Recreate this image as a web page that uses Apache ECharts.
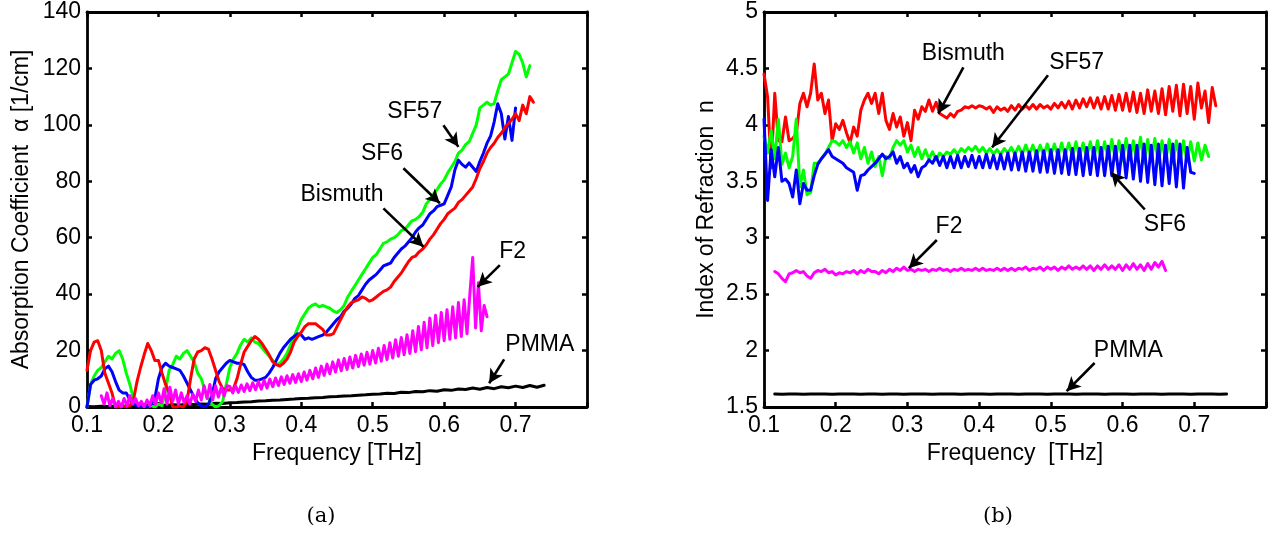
<!DOCTYPE html>
<html>
<head>
<meta charset="utf-8">
<title>THz absorption / refraction</title>
<script src="https://cdn.jsdelivr.net/npm/echarts@6/dist/echarts.min.js"></script>
<style>
    html, body { margin: 0; padding: 0; background: #fff; }
    #chart { width: 1279px; height: 537px; }
</style>
</head>
<body>
<div id="chart"></div>
<script>
// ---- data ----
// frequency axis ticks [THz]
var freqTicks = [0.1, 0.2, 0.3, 0.4, 0.5, 0.6, 0.7];

// (a) absorption coefficient [1/cm], sampled every 0.005 THz from the given start
var sf57AlphaStart = 0.100;
var sf57Alpha = [0, 8, 11, 13, 14, 16, 18, 17, 19, 20, 17, 12, 8, 3, 1, 0, 0.5, 0, 0.5, 0,
    1, 0.5, 6, 13, 15, 18, 17, 19, 20, 18, 16, 12, 10, 6, 3, 1, 0, 0.5, 2, 8,
    14, 17, 19, 22, 24, 23, 24.5, 23, 22.5, 21, 19.5, 18, 16.5, 15, 15.5, 17, 19, 22, 25, 28,
    31, 33, 35, 36, 36.5, 35.5, 36, 35.5, 35, 34, 33.5, 34.5, 36, 39, 41, 43, 45, 47, 49, 51,
    53, 54, 56, 58, 58.5, 59.5, 60, 61, 62.5, 63, 64.5, 66, 66.5, 67.5, 69, 72, 73.5, 75.5, 77, 79,
    80.5, 83, 85, 87, 90, 91, 93, 94, 97, 100, 106, 107, 108, 107, 107.5, 112, 116, 117, 118, 122,
    126, 125, 122, 117, 121];
var sf6AlphaStart = 0.100;
var sf6Alpha = [0, 8, 9.5, 10, 11, 13.5, 14.5, 12.5, 9, 6, 5, 5, 2.5, 1, 0.5, 0, 0.3, 0, 1, 3,
    10, 14, 15.5, 14.5, 14, 13.5, 13, 11, 8.5, 6, 3.5, 1.5, 0.5, 0, 1, 4, 10, 12.5, 14, 15.5,
    16.5, 16, 15.5, 15.5, 15, 12.5, 10.5, 9.5, 9.5, 10, 10.5, 12, 14, 16.5, 19, 21, 22.5, 24, 25, 26,
    25.5, 24, 24.5, 24, 24.5, 25, 25.5, 26.5, 28, 29.5, 31, 32, 34, 35, 36.5, 38.5, 39.5, 41.5, 43.5, 45,
    46, 47, 48.5, 50, 50.5, 51, 53, 54.5, 56, 57, 58.5, 60, 62, 63.5, 64.5, 66.5, 68.5, 69.5, 71, 71.5,
    72, 75, 78, 84, 87.5, 86, 85, 86.5, 85, 83.5, 87, 90, 93.5, 96, 101, 107.5, 104, 95, 103, 94.5,
    106];
var bismuthAlphaStart = 0.100;
var bismuthAlpha = [13, 20, 23, 23.5, 20, 12, 8.5, 5, 0, 0, 0.3, 0, 0.5, 2.5, 9, 14, 18.5, 22.5, 20, 16.5,
    16.5, 12, 8, 5, 0, 0, 0.3, 0, 2, 10, 17, 19.5, 20, 21, 20.5, 17, 13, 9, 6.5, 6,
    6, 6.5, 10, 15, 19.5, 21.5, 23.5, 25, 24, 22.5, 20.5, 18.5, 16, 15, 14.5, 15.5, 17, 19.5, 23, 25,
    26.5, 28.5, 29.5, 29.5, 29.5, 28.5, 27.5, 25.5, 25.5, 26, 28.5, 31, 33.5, 35.5, 37, 37.5, 38, 39, 38.5, 37.5,
    38, 39, 40, 41, 41.5, 42.5, 44.5, 46, 47.5, 49.5, 51.5, 53, 53.5, 55, 56, 57.5, 59.5, 61, 63, 65,
    66.5, 68.5, 69.5, 70.5, 72.5, 73.5, 75, 76.5, 78, 81, 84.5, 87, 90, 92, 93.5, 95.5, 97, 99, 100.5, 102,
    104, 101.5, 107, 104, 110, 108];
// F2 oscillates fast, sampled every 0.004 THz
var f2AlphaStart = 0.120;
var f2Alpha = [4, 1, 5, 0.5, 3, 0, 2, 0, 3, 0.5, 4, 1, 3, 0.5, 2, 0, 2.5, 0.5, 4, 1,
    5, 1.5, 6.5, 1, 7, 2, 6, 1, 5, 1.5, 4, 1, 4.5, 2, 6, 2.5, 7.5, 3, 8, 2.5,
    7.5, 3.5, 7, 4, 7.5, 7.3, 5, 7.5, 5.2, 7.8, 5.5, 8.2, 5.8, 8.6, 6.1, 9, 6.3, 9.5, 6.7, 9.9,
    7.2, 10.3, 7.6, 10.7, 8, 11.1, 8.4, 11.5, 8.7, 11.8, 9, 12.4, 9.5, 13, 10, 13.8, 10.5, 14.5, 11.2, 15.2,
    11.8, 16, 12.4, 16.7, 12.8, 17.2, 13.3, 17.7, 13.8, 18.3, 14.3, 18.8, 14.8, 19.4, 15.2, 20, 15.6, 20.8, 16.2, 21.8,
    16.8, 22.8, 17.4, 23.8, 18, 24.6, 18.5, 25.6, 19, 27, 19.6, 28.5, 20.3, 30, 21, 31.5, 21.8, 32.5, 22.8, 33.5,
    23.5, 34.5, 24, 35.5, 24.5, 37, 25, 38, 26, 40, 53, 28, 44, 27, 36, 32];
// PMMA, sampled every 0.01 THz
var pmmaAlphaStart = 0.100;
var pmmaAlpha = [0.2, 0.1, 0.3, 0.2, 0.4, 0.3, 0.5, 0.4, 0.6, 0.5, 0.7, 0.6, 0.8, 0.7, 1.0, 0.9, 1.1, 1.0, 1.3, 1.2,
    1.5, 1.6, 1.8, 1.9, 2.1, 2.2, 2.4, 2.5, 2.7, 2.8, 3.0, 3.1, 3.3, 3.4, 3.6, 3.7, 3.9, 4.0, 4.2, 4.3,
    4.5, 4.6, 4.9, 4.8, 5.2, 5.1, 5.5, 5.4, 5.8, 5.6, 6.1, 5.9, 6.4, 6.2, 6.7, 6.3, 6.9, 6.5, 7.2, 6.8,
    7.4, 6.9, 7.6, 7.0, 7.7];

// (b) index of refraction, sampled every 0.005 THz
var bismuthNStart = 0.100;
var bismuthN = [4.45, 4.25, 3.62, 4.28, 3.86, 3.85, 4.07, 3.86, 3.88, 3.92, 4.19, 4.28, 4.16, 4.28, 4.54, 4.22, 4.28, 4.10, 4.22, 3.86,
    4.01, 3.96, 4.04, 3.93, 3.84, 3.98, 3.90, 4.13, 4.22, 4.28, 4.19, 4.28, 4.10, 4.28, 4.04, 3.96, 4.10, 3.98, 4.07, 3.90,
    4.02, 3.86, 4.13, 4.05, 4.16, 4.12, 4.22, 4.12, 4.20, 4.10, 4.08, 4.06, 4.10, 4.07, 4.12, 4.13, 4.16, 4.15, 4.17, 4.15,
    4.17, 4.16, 4.14, 4.16, 4.11, 4.16, 4.13, 4.15, 4.12, 4.17, 4.13, 4.18, 4.14, 4.17, 4.14, 4.18, 4.14, 4.18, 4.15, 4.17,
    4.14, 4.19, 4.15, 4.20, 4.15, 4.21, 4.14, 4.22, 4.15, 4.23, 4.16, 4.24, 4.15, 4.24, 4.14, 4.25, 4.14, 4.26, 4.13, 4.27,
    4.13, 4.28, 4.12, 4.29, 4.11, 4.28, 4.10, 4.31, 4.12, 4.30, 4.10, 4.32, 4.09, 4.34, 4.12, 4.35, 4.08, 4.36, 4.10, 4.34,
    4.05, 4.37, 4.15, 4.30, 4.02, 4.33, 4.17];
var sf57NStart = 0.100;
var sf57N = [3.90, 3.75, 3.95, 3.70, 4.05, 3.65, 3.75, 3.62, 3.72, 4.05, 3.45, 3.60, 3.38, 3.40, 3.66, 3.66, 3.70, 3.74, 3.80, 3.86,
    3.85, 3.82, 3.86, 3.80, 3.85, 3.75, 3.84, 3.70, 3.80, 3.66, 3.76, 3.63, 3.72, 3.55, 3.72, 3.70, 3.80, 3.86, 3.82, 3.86,
    3.76, 3.82, 3.72, 3.80, 3.70, 3.78, 3.70, 3.76, 3.69, 3.75, 3.72, 3.76, 3.74, 3.78, 3.74, 3.79, 3.76, 3.80, 3.77, 3.81,
    3.76, 3.80, 3.75, 3.79, 3.74, 3.78, 3.74, 3.79, 3.75, 3.80, 3.74, 3.81, 3.74, 3.82, 3.74, 3.82, 3.73, 3.82, 3.73, 3.83,
    3.73, 3.83, 3.72, 3.84, 3.73, 3.84, 3.72, 3.85, 3.72, 3.84, 3.71, 3.85, 3.71, 3.86, 3.70, 3.85, 3.70, 3.87, 3.69, 3.86,
    3.68, 3.88, 3.69, 3.86, 3.68, 3.89, 3.66, 3.87, 3.68, 3.88, 3.66, 3.86, 3.68, 3.87, 3.66, 3.86, 3.68, 3.86, 3.67, 3.85,
    3.68, 3.84, 3.69, 3.82, 3.72];
var sf6NStart = 0.100;
var sf6N = [4.05, 3.33, 3.78, 3.54, 3.80, 3.50, 3.52, 3.48, 3.36, 3.60, 3.30, 3.48, 3.42, 3.42, 3.55, 3.65, 3.70, 3.74, 3.78, 3.72,
    3.70, 3.68, 3.66, 3.62, 3.60, 3.58, 3.42, 3.55, 3.56, 3.60, 3.63, 3.66, 3.70, 3.74, 3.70, 3.72, 3.76, 3.66, 3.72, 3.62,
    3.66, 3.58, 3.64, 3.54, 3.62, 3.64, 3.69, 3.66, 3.72, 3.64, 3.72, 3.62, 3.72, 3.62, 3.73, 3.62, 3.72, 3.63, 3.73, 3.62,
    3.72, 3.62, 3.74, 3.62, 3.73, 3.61, 3.74, 3.61, 3.75, 3.60, 3.75, 3.60, 3.76, 3.59, 3.76, 3.59, 3.77, 3.58, 3.77, 3.58,
    3.78, 3.57, 3.78, 3.57, 3.78, 3.56, 3.79, 3.56, 3.79, 3.55, 3.80, 3.56, 3.80, 3.55, 3.80, 3.55, 3.81, 3.55, 3.81, 3.54,
    3.82, 3.53, 3.82, 3.52, 3.82, 3.50, 3.83, 3.49, 3.82, 3.47, 3.83, 3.46, 3.82, 3.48, 3.83, 3.45, 3.83, 3.44, 3.80, 3.58,
    3.57];
var f2NStart = 0.115;
var f2N = [2.70, 2.68, 2.64, 2.61, 2.68, 2.69, 2.71, 2.69, 2.70, 2.66, 2.64, 2.69, 2.71, 2.70, 2.72, 2.69, 2.70, 2.67, 2.69, 2.68,
    2.70, 2.69, 2.71, 2.68, 2.71, 2.69, 2.72, 2.70, 2.70, 2.68, 2.71, 2.69, 2.72, 2.70, 2.73, 2.71, 2.74, 2.71, 2.72, 2.70,
    2.72, 2.71, 2.72, 2.70, 2.72, 2.71, 2.73, 2.71, 2.72, 2.70, 2.72, 2.71, 2.73, 2.71, 2.72, 2.71, 2.73, 2.71, 2.73, 2.71,
    2.72, 2.71, 2.73, 2.71, 2.73, 2.71, 2.73, 2.71, 2.73, 2.72, 2.74, 2.71, 2.73, 2.72, 2.74, 2.71, 2.74, 2.72, 2.74, 2.71,
    2.74, 2.72, 2.75, 2.72, 2.74, 2.72, 2.75, 2.72, 2.75, 2.71, 2.75, 2.72, 2.76, 2.72, 2.75, 2.72, 2.76, 2.71, 2.76, 2.72,
    2.77, 2.72, 2.76, 2.71, 2.77, 2.72, 2.78, 2.74, 2.79, 2.71];
// PMMA, every 0.01 THz
var pmmaNStart = 0.115;
var pmmaN = [1.615, 1.614, 1.616, 1.615, 1.614, 1.615, 1.616, 1.615, 1.614, 1.615, 1.616, 1.615, 1.614, 1.615, 1.615, 1.614, 1.616, 1.615, 1.614, 1.615,
    1.616, 1.615, 1.614, 1.615, 1.616, 1.615, 1.614, 1.615, 1.616, 1.615, 1.614, 1.615, 1.616, 1.615, 1.614, 1.615, 1.616, 1.615, 1.614, 1.615,
    1.616, 1.615, 1.614, 1.615, 1.616, 1.615, 1.614, 1.615, 1.616, 1.615, 1.614, 1.615, 1.616, 1.615, 1.614, 1.615, 1.616, 1.615, 1.614, 1.615,
    1.616, 1.615, 1.614, 1.615];

// annotation text [x, y] and arrow [from, to], data units
var labelsA = [
    { text: "SF57", at: [0.559, 104.6], from: [0.599, 99.9], to: [0.620, 92.2] },
    { text: "SF6", at: [0.513, 89.9], from: [0.543, 84.6], to: [0.594, 72.2] },
    { text: "Bismuth", at: [0.457, 75.1], from: [0.515, 70.4], to: [0.571, 56.8] },
    { text: "F2", at: [0.696, 55.0], from: [0.678, 50.3], to: [0.647, 42.6] },
    { text: "PMMA", at: [0.734, 22.0], from: [0.684, 16.9], to: [0.663, 8.4] }
];
var labelsB = [
    { text: "Bismuth", at: [0.378, 4.63], from: [0.378, 4.51], to: [0.343, 4.10] },
    { text: "SF57", at: [0.536, 4.55], from: [0.496, 4.44], to: [0.418, 3.80] },
    { text: "SF6", at: [0.659, 3.12], from: [0.631, 3.25], to: [0.584, 3.58] },
    { text: "F2", at: [0.358, 3.10], from: [0.341, 2.98], to: [0.302, 2.73] },
    { text: "PMMA", at: [0.608, 2.00], from: [0.561, 1.89], to: [0.522, 1.64] }
];

var FONT = "'Liberation Sans', Arial, Helvetica, sans-serif";
var FS = 23;

function pairs(start, step, values) {
    var out = [];
    for (var i = 0; i < values.length; i++) {
        out.push([+(start + i * step).toFixed(4), values[i]]);
    }
    return out;
}

function curve(name, color, grid, start, step, values) {
    return {
        name: name, type: "line", xAxisIndex: grid * 2, yAxisIndex: grid * 2,
        data: pairs(start, step, values),
        showSymbol: false, symbol: "none", smooth: false, animation: false, silent: true,
        lineStyle: { color: color, width: 3, join: "round", cap: "round" },
        z: 3
    };
}

function arrows(grid, labels) {
    var lines = [];
    for (var i = 0; i < labels.length; i++) {
        lines.push([{ coord: labels[i].from }, { coord: labels[i].to }]);
    }
    return {
        type: "line", xAxisIndex: grid * 2, yAxisIndex: grid * 2, data: [], silent: true, animation: false,
        markLine: {
            silent: true, animation: false, symbol: ["none", "arrow"], symbolSize: [11, 14],
            label: { show: false },
            lineStyle: { color: "#000", width: 2.6, type: "solid" },
            data: lines
        },
        z: 6
    };
}

function xAxes(grid, name) {
    return [{
        gridIndex: grid, type: "value", min: 0.1, max: 0.8, interval: 0.1, position: "bottom",
        name: name, nameLocation: "middle", nameGap: 32,
        nameTextStyle: { fontFamily: FONT, fontSize: FS, color: "#000" },
        axisLine: { show: true, onZero: false, lineStyle: { color: "#000", width: 2.8 } },
        axisTick: { show: true, inside: true, length: 5, lineStyle: { color: "#000", width: 2.5 } },
        axisLabel: {
            fontFamily: FONT, fontSize: FS, color: "#000", margin: 7,
            formatter: function (v) { return freqTicks.indexOf(Math.round(v * 10) / 10) !== -1 ? v.toFixed(1) : ""; }
        },
        splitLine: { show: false }
    }, {
        gridIndex: grid, type: "value", min: 0.1, max: 0.8, interval: 0.1, position: "top",
        axisLine: { show: true, onZero: false, lineStyle: { color: "#000", width: 2.8 } },
        axisTick: { show: true, inside: true, length: 5, lineStyle: { color: "#000", width: 2.5 } },
        axisLabel: { show: false }, splitLine: { show: false }
    }];
}

function yAxes(grid, name, min, max, step, gap) {
    return [{
        gridIndex: grid, type: "value", min: min, max: max, interval: step, position: "left",
        name: name, nameLocation: "middle", nameGap: gap, nameRotate: 90,
        nameTextStyle: { fontFamily: FONT, fontSize: FS, color: "#000" },
        axisLine: { show: true, onZero: false, lineStyle: { color: "#000", width: 2.8 } },
        axisTick: { show: true, inside: true, length: 5, lineStyle: { color: "#000", width: 2.5 } },
        axisLabel: { fontFamily: FONT, fontSize: FS, color: "#000", margin: 6 },
        splitLine: { show: false }
    }, {
        gridIndex: grid, type: "value", min: min, max: max, interval: step, position: "right",
        axisLine: { show: true, onZero: false, lineStyle: { color: "#000", width: 2.8 } },
        axisTick: { show: true, inside: true, length: 5, lineStyle: { color: "#000", width: 2.5 } },
        axisLabel: { show: false }, splitLine: { show: false }
    }];
}

var chart = echarts.init(document.getElementById("chart"), null, { renderer: "canvas" });
var option = {
    backgroundColor: "#fff",
    animation: false,
    grid: [
        { left: 87, top: 12, width: 500, height: 395 },
        { left: 764, top: 12, width: 502, height: 395 }
    ],
    xAxis: xAxes(0, "Frequency [THz]").concat(xAxes(1, "Frequency  [THz]")),
    yAxis: yAxes(0, "Absorption Coefficient  α [1/cm]", 0, 140, 20, 54)
        .concat(yAxes(1, "Index of Refraction  n", 1.5, 5, 0.5, 46)),
    series: [
        curve("PMMA", "#000000", 0, pmmaAlphaStart, 0.01, pmmaAlpha),
        curve("SF57", "#00ff00", 0, sf57AlphaStart, 0.005, sf57Alpha),
        curve("SF6", "#0000ff", 0, sf6AlphaStart, 0.005, sf6Alpha),
        curve("Bismuth", "#ff0000", 0, bismuthAlphaStart, 0.005, bismuthAlpha),
        curve("F2", "#ff00ff", 0, f2AlphaStart, 0.004, f2Alpha),
        curve("Bismuth", "#ff0000", 1, bismuthNStart, 0.005, bismuthN),
        curve("SF57", "#00ff00", 1, sf57NStart, 0.005, sf57N),
        curve("SF6", "#0000ff", 1, sf6NStart, 0.005, sf6N),
        curve("F2", "#ff00ff", 1, f2NStart, 0.005, f2N),
        curve("PMMA", "#000000", 1, pmmaNStart, 0.01, pmmaN),
        arrows(0, labelsA),
        arrows(1, labelsB)
    ]
};
chart.setOption(option);

// label texts and sub-figure captions
function placeLabels() {
    var els = [];
    var sets = [labelsA, labelsB];
    for (var g = 0; g < sets.length; g++) {
        for (var i = 0; i < sets[g].length; i++) {
            var p = chart.convertToPixel({ xAxisIndex: g * 2, yAxisIndex: g * 2 }, sets[g][i].at);
            els.push({
                type: "text", x: p[0], y: p[1], z: 10, silent: true,
                style: { text: sets[g][i].text, fontFamily: FONT, fontSize: FS, fill: "#000", align: "center", verticalAlign: "middle" }
            });
        }
    }
    var capFont = "'DejaVu Serif', 'Liberation Serif', serif";
    els.push({ type: "text", x: 321, y: 517, style: { text: "(a)", fontFamily: capFont, fontSize: 21, fill: "#000", align: "center", verticalAlign: "middle" } });
    els.push({ type: "text", x: 998, y: 517, style: { text: "(b)", fontFamily: capFont, fontSize: 21, fill: "#000", align: "center", verticalAlign: "middle" } });
    chart.setOption({ graphic: els });
}
placeLabels();
</script>
</body>
</html>
